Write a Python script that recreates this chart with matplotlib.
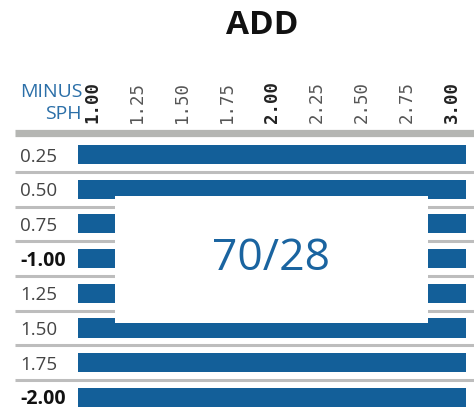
import matplotlib
matplotlib.use("Agg")
import matplotlib.pyplot as plt
from matplotlib.patches import Rectangle
import matplotlib.transforms as mtransforms

# data
add_values = [1.00, 1.25, 1.50, 1.75, 2.00, 2.25, 2.50, 2.75, 3.00]
add_labels = ["1.00", "1.25", "1.50", "1.75", "2.00", "2.25", "2.50", "2.75", "3.00"]
add_bold = [True, False, False, False, True, False, False, False, True]
sph_labels = ["0.25", "0.50", "0.75", "-1.00", "1.25", "1.50", "1.75", "-2.00"]
sph_bold = [False, False, False, True, False, False, False, True]
range_start = [1.00, 1.00, 1.00, 1.00, 1.00, 1.00, 1.00, 1.00]
range_end = [3.00, 3.00, 3.00, 3.00, 3.00, 3.00, 3.00, 3.00]
title = "ADD"
overlay_text = "70/28"

W, H = 474, 411
BAR = "#135f99"
GRID = "#bdbdbd"
BLUE_TXT = "#2b6fa8"

fig = plt.figure(figsize=(W / 100, H / 100), dpi=100)
ax = fig.add_axes([0, 0, 1, 1])
ax.set_axis_off()

# pixel <-> data layout
px_per_add = 180.0
x_add1 = 92.0
row0_y, row_h = 154.5, 34.7
ax.set_xlim(1.0 - x_add1 / px_per_add, 1.0 + (W - x_add1) / px_per_add)
ax.set_ylim((H - row0_y) / row_h, -row0_y / row_h)

def fy(py):
    return 1 - py / H

def fx(px):
    return px / W

pad = 0.075
rows = list(range(len(sph_labels)))
ax.barh(rows, [e - s + 2 * pad for s, e in zip(range_start, range_end)],
        left=[s - pad for s in range_start], height=0.55, color=BAR, zorder=2)

# separators
xl = ax.get_xlim()
x15 = xl[0] + 15 / px_per_add
for r in rows[:-1]:
    ax.plot([x15, xl[1]], [r + 0.5, r + 0.5], color=GRID, lw=2.2,
            solid_capstyle="butt", zorder=1)
ax.plot([x15, xl[1]], [-0.62, -0.62], color="#b5b6b3", lw=5.2,
        solid_capstyle="butt", zorder=1)

# row labels
for r, lab, b in zip(rows, sph_labels, sph_bold):
    ax.text(fx(20), fy(row0_y + r * row_h + 2), lab, transform=ax.transAxes,
            ha="left", va="center", fontsize=14 if b else 13.5,
            family="Open Sans", fontweight="bold" if b else "normal",
            color="#111" if b else "#444")

# column labels
trans = mtransforms.blended_transform_factory(ax.transData, ax.transAxes)
for v, lab, b in zip(add_values, add_labels, add_bold):
    ax.text(v, fy(123), lab, transform=trans, rotation=90, ha="center",
            va="bottom", fontsize=12.5, family="DejaVu Sans Mono",
            fontweight="bold" if b else "normal", color="#222" if b else "#555")

ax.text(fx(82), fy(92), "MINUS", transform=ax.transAxes, ha="right",
        va="center", fontsize=14, family="Open Sans", color=BLUE_TXT)
ax.text(fx(82), fy(114), "SPH", transform=ax.transAxes, ha="right",
        va="center", fontsize=14, family="Open Sans", color=BLUE_TXT)

ax.text(fx(262), fy(25), title, transform=ax.transAxes, ha="center",
        va="center", fontsize=24, family="Open Sans", fontweight="bold",
        color="#111")

# overlay box
ax.add_patch(Rectangle((fx(115), fy(323)), fx(428) - fx(115), fy(196) - fy(323),
                       transform=ax.transAxes, facecolor="white",
                       edgecolor="none", zorder=5))
ax.text(fx(271), fy(259), overlay_text, transform=ax.transAxes, ha="center",
        va="center", fontsize=32, family="Open Sans", color="#1a64a0", zorder=6)

fig.savefig("out.png", dpi=100, facecolor="white")
